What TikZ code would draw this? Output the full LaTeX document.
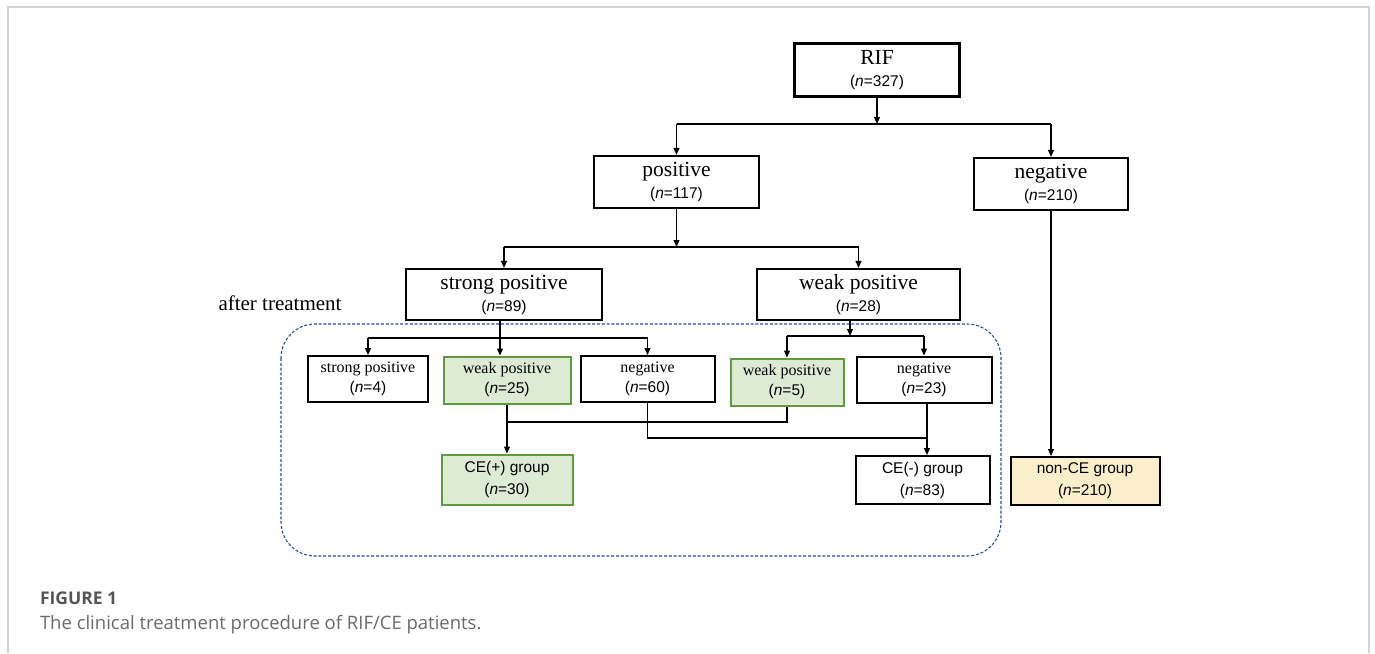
\documentclass[tikz,border=0pt]{standalone}
\usepackage{fontspec}
\setmainfont{Liberation Serif}
\newfontfamily\sansf{Liberation Sans}
\newfontfamily\capf{Open Sans}
\usetikzlibrary{arrows.meta}
\definecolor{framegray}{HTML}{D2D2D2}
\definecolor{boxgreen}{HTML}{DDEBD4}
\definecolor{edgegreen}{HTML}{5E9A3E}
\definecolor{boxyellow}{HTML}{FBEFCB}
\definecolor{dashblue}{HTML}{2E4D9A}
\definecolor{capgray}{HTML}{555555}
\definecolor{captext}{HTML}{6A6A6A}
\newcommand\bigt[1]{{\fontsize{21.5}{21.5}\selectfont #1}}
\newcommand\smt[1]{{\fontsize{16}{16}\selectfont #1}}
\newcommand\sst[1]{{\sansf\fontsize{15.5}{15.5}\selectfont #1}}
\newcommand\nv[1]{{\sansf\fontsize{15.5}{15.5}\selectfont(\textit{n}=#1)}}
\begin{document}
\begin{tikzpicture}[x=1pt,y=-1pt,
  bigbox/.style={draw=black, line width=2.2pt, align=center, inner sep=0pt, font=\fontsize{15}{22}\selectfont},
  smbox/.style={draw=black, line width=2pt, align=center, inner sep=0pt, font=\fontsize{15}{20}\selectfont},
  grbox/.style={smbox, draw=edgegreen, fill=boxgreen},
  grpbox/.style={draw=black, line width=2pt, align=center, inner sep=0pt, font=\fontsize{15}{22}\selectfont},
  conn/.style={line width=1.2pt, draw=black},
  arr/.style={conn, -{Triangle[length=7pt,width=6pt]}},
  plain/.style={inner sep=0pt, outer sep=0pt}
]
\useasboundingbox (0,0) rectangle (1375,653);
% page frame
\draw[framegray, line width=2pt] (8,653) -- (8,7) -- (1369,7) -- (1369,653);

% treatment area
\draw[dashblue, line width=1.1pt, dash pattern=on 3pt off 1.8pt, rounded corners=34pt] (281,324) rectangle (1001,556);
\node[plain, anchor=base, font=\fontsize{21}{21}\selectfont] (after) at (280,310) {after treatment};

% boxes
\node[bigbox, minimum width=165pt, minimum height=53pt] (rif) at (877,70) {\bigt{RIF}\\\nv{327}};
\node[bigbox, minimum width=165pt, minimum height=52pt] (pos) at (676.5,182) {\bigt{positive}\\\nv{117}};
\node[bigbox, minimum width=154pt, minimum height=52pt] (neg) at (1051,184) {\bigt{negative}\\\nv{210}};
\node[bigbox, minimum width=196pt, minimum height=51pt] (sp) at (504,294.5) {\bigt{strong positive}\\\nv{89}};
\node[bigbox, minimum width=203pt, minimum height=51pt] (wp) at (858.5,294.5) {\bigt{weak positive}\\\nv{28}};

\node[smbox, minimum width=120pt, minimum height=46pt] (sp4) at (368,379) {\smt{strong positive}\\\nv{4}};
\node[grbox, minimum width=127pt, minimum height=47pt] (wp25) at (507,380) {\smt{weak positive}\\\nv{25}};
\node[smbox, minimum width=134pt, minimum height=46pt] (neg60) at (647.5,379) {\smt{negative}\\\nv{60}};
\node[grbox, minimum width=113pt, minimum height=47pt] (wp5) at (787,382) {\smt{weak positive}\\\nv{5}};
\node[smbox, minimum width=135pt, minimum height=46pt] (neg23) at (924,379.5) {\smt{negative}\\\nv{23}};

\node[grpbox, draw=edgegreen, fill=boxgreen, minimum width=131pt, minimum height=50pt] (cep) at (507,479.5) {\sst{CE(+) group}\\\nv{30}};
\node[grpbox, minimum width=134pt, minimum height=48pt] (cem) at (922.5,480) {\sst{CE(-) group}\\\nv{83}};
\node[grpbox, fill=boxyellow, minimum width=149pt, minimum height=48pt] (nonce) at (1085,481) {\sst{non-CE group}\\\nv{210}};

% junction coordinates
\coordinate (j1) at (877,124);
\coordinate (j2) at (676.5,247);
\coordinate (j3) at (500,338);
\coordinate (j4) at (850,336);
\coordinate (j5) at (507,422);
\coordinate (j6) at (927,438);

% connectors
\draw[arr] (rif.south) -- (j1);
\draw[conn] (j1 -| pos) -- (j1 -| neg);
\draw[arr] (j1 -| pos) -- (pos.north);
\draw[arr] (j1 -| neg) -- (neg.north);

\draw[arr] (pos.south) -- (j2);
\draw[conn] (j2 -| sp) -- (j2 -| wp);
\draw[arr] (j2 -| sp) -- (sp.north);
\draw[arr] (j2 -| wp) -- (wp.north);

\draw[arr] (sp.south -| j3) -- (wp25.north -| j3);
\draw[conn] (j3 -| sp4) -- (j3 -| neg60);
\draw[arr] (j3 -| sp4) -- (sp4.north);
\draw[arr] (j3 -| neg60) -- (neg60.north);

\draw[arr] (wp.south -| j4) -- (j4);
\draw[conn] (j4 -| wp5) -- (j4 -| neg23);
\draw[arr] (j4 -| wp5) -- (wp5.north);
\draw[arr] (j4 -| neg23) -- (neg23.north);

\draw[arr] (wp25.south) -- (cep.north);
\draw[conn] (wp5.south) |- (j5);
\draw[conn] (neg60.south) |- (j6);
\draw[arr] (neg23.south -| j6) -- (cem.north -| j6);
\draw[arr] (neg.south) -- (nonce.north -| neg.south);

% caption
\node[plain, anchor=base west, font=\capf\bfseries\fontsize{17.5}{17.5}\selectfont, text=capgray] (figlab) at (40,604) {FIGURE 1};
\node[plain, anchor=base west, font=\capf\fontsize{18.5}{18.5}\selectfont, text=captext] (figcap) at (40,629) {The clinical treatment procedure of RIF/CE patients.};
\end{tikzpicture}
\end{document}
